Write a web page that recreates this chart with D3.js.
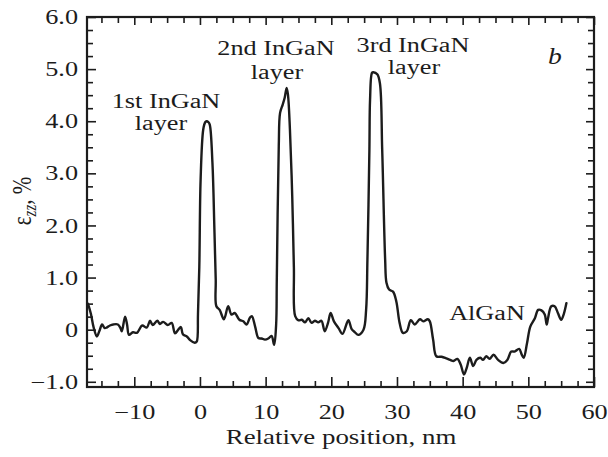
<!DOCTYPE html>
<html><head><meta charset="utf-8">
<script src="https://cdn.jsdelivr.net/npm/d3@7"></script>
<style>body{margin:0;background:#fff}</style>
</head><body>
<svg id="c" width="608" height="457"></svg>
<script>
// ---- data ----
const positions = [
-17.05,-16.6,-16.2,-15.7,-15.3,-14.9,-14.5,-14.2,-13.7,-13.2,-12.5,-12.1,-11.9,-11.4,-11.1,-10.8,-10.2,-9.6,-8.8,-8.1,
-7.6,-7.2,-6.5,-6.1,-5.6,-4.9,-4.3,-3.8,-3.3,-2.9,-2.6,-2.0,-1.5,-0.8,-0.5,-0.3,-0.1,0.1,0.5,0.8,
1.0,1.3,1.5,1.9,2.2,2.4,2.5,3.0,3.65,4.3,4.8,5.3,6.0,6.6,7.1,7.6,7.9,8.4,8.9,9.4,
9.9,10.4,10.9,11.3,11.6,11.7,12.0,12.2,12.6,12.9,13.2,13.4,13.7,14.05,14.3,14.5,15.0,15.5,16.0,16.5,
17.0,17.5,18.0,18.5,19.0,19.5,19.9,20.4,21.1,21.7,22.6,23.1,23.6,24.1,24.9,25.3,25.5,25.8,25.9,26.2,
26.4,27.0,27.4,27.75,28.2,28.4,28.8,29.4,29.9,30.4,30.9,31.5,32.1,32.7,33.5,34.0,34.7,35.0,35.5,36.0,
36.8,37.5,38.1,38.6,39.2,39.7,40.2,40.6,41.1,41.6,42.1,42.7,43.1,43.6,44.1,44.7,45.4,46.2,46.8,47.4,
47.9,48.6,49.0,49.3,49.8,50.3,51.0,51.5,52.0,52.5,52.8,53.0,53.5,54.0,54.5,55.0,55.4,55.8
];
const strain = [
0.50,0.30,0.05,-0.13,-0.02,0.10,0.03,0.04,0.08,0.10,0.10,0.03,-0.03,0.25,0.10,-0.10,-0.05,-0.06,0.08,0.04,
0.17,0.09,0.17,0.11,0.15,0.09,0.13,-0.07,0.00,0.05,-0.09,-0.13,-0.20,-0.25,-0.23,0.30,1.20,2.88,3.84,3.98,
4.00,3.98,3.93,3.20,1.92,0.96,0.45,0.38,0.20,0.45,0.29,0.32,0.19,0.16,0.10,0.23,0.26,0.06,-0.16,-0.17,
-0.19,-0.17,-0.12,-0.29,0.10,0.96,3.52,4.16,4.32,4.45,4.64,4.51,3.84,2.56,1.20,0.26,0.18,0.19,0.14,0.22,
0.13,0.17,0.14,0.17,-0.03,0.13,0.32,0.16,0.03,-0.08,0.18,0.01,-0.05,-0.10,0.00,0.38,1.34,3.45,4.41,4.93,
4.94,4.90,4.73,3.45,1.34,0.90,0.77,0.73,0.54,0.13,-0.06,-0.03,0.18,0.10,0.20,0.16,0.20,0.16,-0.19,-0.51,
-0.52,-0.55,-0.58,-0.60,-0.56,-0.67,-0.86,-0.74,-0.54,-0.70,-0.58,-0.54,-0.58,-0.51,-0.56,-0.48,-0.58,-0.64,-0.58,-0.42,
-0.42,-0.37,-0.48,-0.54,-0.26,0.06,0.22,0.38,0.37,0.29,0.10,0.22,0.45,0.45,0.32,0.19,0.30,0.51
];
const xTickValues = [-10,0,10,20,30,40,50,60];
const xTickLabels = ["\u221210","0","10","20","30","40","50","60"];
const yTickValues = [-1,0,1,2,3,4,5,6];
const yTickLabels = ["\u22121.0","0","1.0","2.0","3.0","4.0","5.0","6.0"];
const layerLabels = [["1st InGaN","layer"],["2nd InGaN","layer"],["3rd InGaN","layer"]];
const regionLabel = "AlGaN";
const panelLabel = "b";
const xTitle = "Relative position, nm";

// ---- layout ----
const L = 87, R = 594, T = 17, B = 387;
const SX = 1.28;
const FONT = "'Liberation Serif','Times New Roman',serif";
const INK = "#1c1c1c";
const svg = d3.select("#c");
const x = d3.scaleLinear().domain([-17.2, 60]).range([L, R]);
const y = d3.scaleLinear().domain([-1.1, 6.0]).range([B, T]);

const xMinor = d3.range(-15, 60, 2.5).filter(v => v % 10 !== 0);
const yMinor = d3.range(-1, 6, 0.25).filter(v => Math.abs(v - Math.round(v)) > 1e-6);

function stretch(sel) {
  sel.each(function() {
    const t = d3.select(this);
    const tx = +t.attr("x") || 0, ty = +t.attr("y") || 0;
    t.attr("x", null).attr("y", null)
     .attr("transform", `translate(${tx},${ty}) scale(${SX},1)`);
  });
}
function styleAxis(g) {
  g.select(".domain").remove();
  g.selectAll("line").attr("stroke", INK).attr("stroke-width", 1.6);
  g.selectAll("text").attr("font-family", FONT).attr("font-size", 20.5).attr("fill", INK);
}

// minor ticks
svg.append("g").attr("transform", `translate(0,${B})`)
  .call(d3.axisBottom(x).tickValues(xMinor).tickSize(-6).tickFormat(""))
  .call(styleAxis);
svg.append("g").attr("transform", `translate(0,${T})`)
  .call(d3.axisTop(x).tickValues(xMinor).tickSize(-6).tickFormat(""))
  .call(styleAxis);
svg.append("g").attr("transform", `translate(${L},0)`)
  .call(d3.axisLeft(y).tickValues(yMinor).tickSize(-6).tickFormat(""))
  .call(styleAxis);
svg.append("g").attr("transform", `translate(${R},0)`)
  .call(d3.axisRight(y).tickValues(yMinor).tickSize(-6).tickFormat(""))
  .call(styleAxis);

// major ticks
const gx = svg.append("g").attr("transform", `translate(0,${B})`)
  .call(d3.axisBottom(x).tickValues(xTickValues).tickSize(-10).tickPadding(17)
    .tickFormat((d, i) => xTickLabels[i]))
  .call(styleAxis);
stretch(gx.selectAll("text"));
svg.append("g").attr("transform", `translate(0,${T})`)
  .call(d3.axisTop(x).tickValues(xTickValues).tickSize(-8).tickFormat(""))
  .call(styleAxis);
const gy = svg.append("g").attr("transform", `translate(${L},0)`)
  .call(d3.axisLeft(y).tickValues(yTickValues).tickSize(-9).tickPadding(9)
    .tickFormat((d, i) => yTickLabels[i]))
  .call(styleAxis);
stretch(gy.selectAll("text"));
svg.append("g").attr("transform", `translate(${R},0)`)
  .call(d3.axisRight(y).tickValues(yTickValues).tickSize(-8).tickFormat(""))
  .call(styleAxis);

// frame
svg.append("rect").attr("x", L).attr("y", T).attr("width", R - L).attr("height", B - T)
  .attr("fill", "none").attr("stroke", INK).attr("stroke-width", 2.2);

// curve
const pts = positions.map((p, i) => [p, strain[i]]);
svg.append("path").datum(pts)
  .attr("fill", "none").attr("stroke", INK).attr("stroke-width", 2.4)
  .attr("stroke-linejoin", "round").attr("stroke-linecap", "round")
  .attr("d", d3.line().x(d => x(d[0])).y(d => y(d[1])).curve(d3.curveCatmullRom.alpha(0.5)));

// text helper
function label(txt, cx, by, opts = {}) {
  const t = svg.append("text")
    .attr("transform", `translate(${cx},${by}) scale(${opts.sx || SX},1)`)
    .attr("text-anchor", opts.anchor || "middle")
    .attr("font-family", FONT).attr("font-size", opts.size || 20.5)
    .attr("fill", INK).text(txt);
  if (opts.italic) t.attr("font-style", "italic");
  return t;
}
const layerPos = [[166, 108, 161, 130], [276, 55, 277, 79], [413, 52, 414, 74]];
layerLabels.forEach((lab, i) => {
  const p = layerPos[i];
  label(lab[0], p[0], p[1]);
  label(lab[1], p[2], p[3]);
});
label(regionLabel, 487, 320);
label(panelLabel, 555, 64, {italic: true, size: 24, sx: 1.15});
label(xTitle, 341, 444, {size: 21});

// y-axis title: ε_zz, %
const yt = svg.append("text")
  .attr("transform", `translate(31,201) scale(${SX},1) rotate(-90)`)
  .attr("text-anchor", "middle")
  .attr("font-family", FONT).attr("font-size", 21).attr("fill", INK);
yt.append("tspan").text("\u03b5");
yt.append("tspan").attr("font-style", "italic").attr("font-size", 15).attr("dy", 4).text("zz");
yt.append("tspan").attr("dy", -4).text(", %");
</script>
</body></html>
